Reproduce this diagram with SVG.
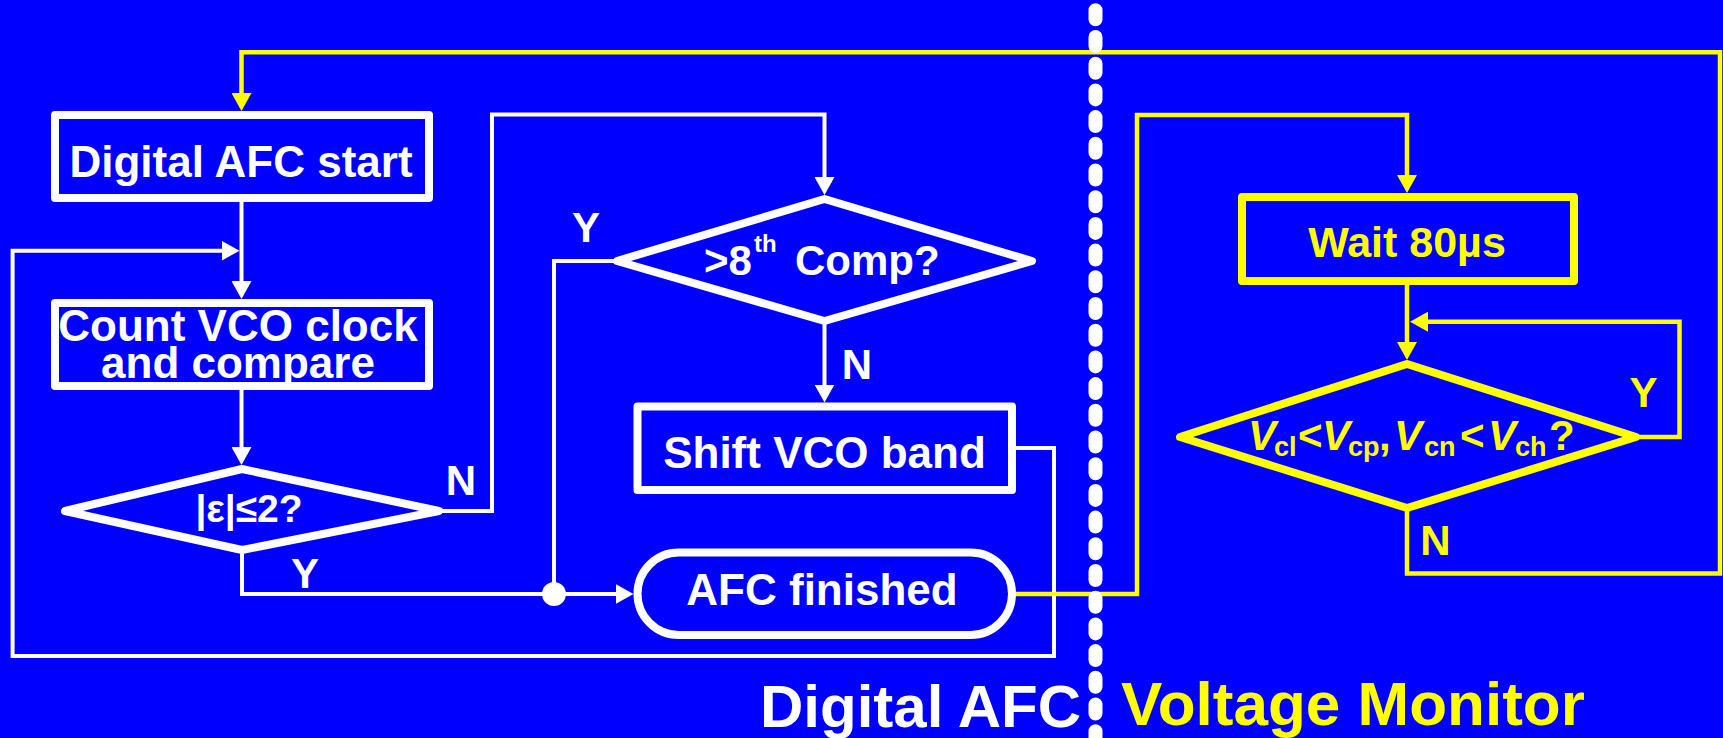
<svg xmlns="http://www.w3.org/2000/svg" width="1723" height="738" viewBox="0 0 1723 738">
<defs>
<style>
.t{font-family:"Liberation Sans",Arial,Helvetica,sans-serif;font-weight:bold;}
.tw{fill:#fff}
.ty{fill:#ff0}
.bx{fill:none;stroke:#fff;stroke-width:8;stroke-linejoin:round}
.bxy{fill:none;stroke:#ff0;stroke-width:8;stroke-linejoin:round}
.cw{fill:none;stroke:#fff;stroke-width:4}
.cy{fill:none;stroke:#ff0;stroke-width:4.5}
</style>
<marker id="aw" viewBox="0 0 18 20" refX="8" refY="10" markerWidth="18" markerHeight="20" markerUnits="userSpaceOnUse" orient="auto"><path d="M0,0L18,10L0,20z" fill="#fff"/></marker>
<marker id="ay" viewBox="0 0 18 20" refX="8" refY="10" markerWidth="18" markerHeight="20" markerUnits="userSpaceOnUse" orient="auto"><path d="M0,0L18,10L0,20z" fill="#ff0"/></marker>
</defs>
<rect width="1723" height="738" fill="#00f"/>

<g id="connectors">
<path class="cw" d="M241.5,202V289" marker-end="url(#aw)"/>
<path class="cw" d="M1016,448H1054V656H12.6V250.7H229.5" marker-end="url(#aw)"/>
<path class="cw" d="M241.5,390V455" marker-end="url(#aw)"/>
<path class="cw" d="M439,511H492V114.5H824.5V185" marker-end="url(#aw)"/>
<path class="cw" d="M242,550V594H623.5" marker-end="url(#aw)"/>
<path class="cw" d="M617,261H554V594"/>
<path class="cw" d="M824.5,321V392.5" marker-end="url(#aw)"/>
<circle cx="554" cy="594" r="12" fill="#fff"/>
<path class="cy" d="M1012,594H1137V115H1407V183" marker-end="url(#ay)"/>
<path class="cy" d="M1407,508V573.5H1720V52.3H241.5V101" marker-end="url(#ay)"/>
<path class="cy" d="M1636,437H1679.5V321.7H1420" marker-end="url(#ay)"/>
<path class="cy" d="M1407,285V350" marker-end="url(#ay)"/>
</g>

<g id="labels" class="t" font-size="42" text-anchor="middle">
<text class="tw" x="461" y="495">N</text>
<text class="tw" x="305" y="588">Y</text>
<text class="tw" x="586" y="242">Y</text>
<text class="tw" x="857" y="379">N</text>
<text class="ty" x="1643.5" y="407">Y</text>
<text class="ty" x="1435.5" y="555">N</text>
</g>

<g id="start">
<rect class="bx" x="55" y="115" width="374" height="83"/>
<text class="t tw" x="241" y="177" font-size="44" text-anchor="middle">Digital AFC start</text>
</g>

<g id="count">
<rect class="bx" x="55" y="303" width="374" height="83"/>
<text class="t tw" x="238" y="341" font-size="44" text-anchor="middle">Count VCO clock</text>
<text class="t tw" x="238" y="378" font-size="44" text-anchor="middle">and compare</text>
</g>

<g id="eps">
<polygon class="bx" points="242,469 439,511 242,550 65,511"/>
<text class="t tw" x="249" y="522" font-size="39" text-anchor="middle">|ε|≤2?</text>
</g>

<g id="comp">
<polygon class="bx" points="824.5,199 1032,261 824.5,321 617,261"/>
<text class="t tw" font-size="42"><tspan x="704" y="275">&gt;8</tspan><tspan x="754" y="252" font-size="24">th</tspan><tspan x="795" y="275">Comp?</tspan></text>
</g>

<g id="shift">
<rect class="bx" x="637.5" y="406.5" width="374.5" height="83.5"/>
<text class="t tw" x="824.5" y="468" font-size="44" text-anchor="middle">Shift VCO band</text>
</g>

<g id="finished">
<rect class="bx" x="637.5" y="552.5" width="374.5" height="82.5" rx="41.25"/>
<text class="t tw" x="822" y="605" font-size="44" text-anchor="middle">AFC finished</text>
</g>

<g id="wait">
<rect class="bxy" x="1242" y="197" width="332" height="84"/>
<text class="t ty" x="1407" y="257" font-size="43" text-anchor="middle">Wait 80µs</text>
</g>

<g id="vcheck">
<polygon class="bxy" points="1407,364 1636,437 1407,508 1180,437"/>
<text class="t ty" font-size="42"><tspan x="1248" y="450" font-style="italic">V</tspan><tspan x="1274" y="456" font-size="27">cl</tspan><tspan x="1298" y="450">&lt;</tspan><tspan x="1322" y="450" font-style="italic">V</tspan><tspan x="1348" y="456" font-size="27">cp</tspan><tspan x="1379" y="450">,</tspan><tspan x="1394" y="450" font-style="italic">V</tspan><tspan x="1424" y="456" font-size="27">cn</tspan><tspan x="1460" y="450">&lt;</tspan><tspan x="1488" y="450" font-style="italic">V</tspan><tspan x="1515" y="456" font-size="27">ch</tspan><tspan x="1549" y="450">?</tspan></text>
</g>

<g id="titles" class="t">
<text class="tw" x="760" y="727" font-size="60">Digital AFC</text>
<text class="ty" x="1121" y="725" font-size="62">Voltage Monitor</text>
</g>

<g id="divider">
<line x1="1095.5" y1="10.3" x2="1095.5" y2="760" stroke="#fff" stroke-width="14" stroke-linecap="round" stroke-dasharray="9 17.7"/>
</g>
</svg>
